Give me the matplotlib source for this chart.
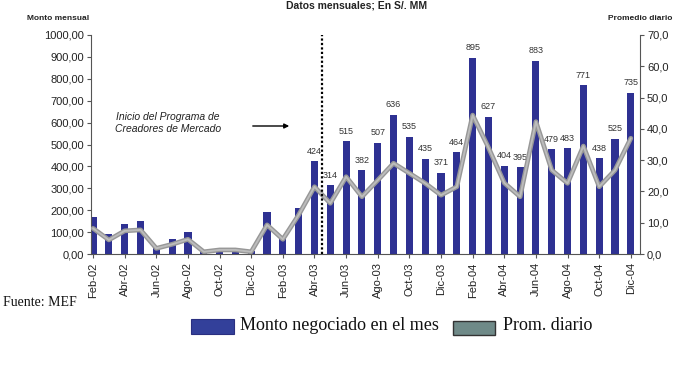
import matplotlib
matplotlib.use("Agg")
import matplotlib.pyplot as plt
from matplotlib.patches import Rectangle
import numpy as np

months = ["Feb-02", "Mar-02", "Abr-02", "May-02", "Jun-02", "Jul-02", "Ago-02", "Sep-02",
          "Oct-02", "Nov-02", "Dic-02", "Ene-03", "Feb-03", "Mar-03", "Abr-03", "May-03",
          "Jun-03", "Jul-03", "Ago-03", "Sep-03", "Oct-03", "Nov-03", "Dic-03", "Ene-04",
          "Feb-04", "Mar-04", "Abr-04", "May-04", "Jun-04", "Jul-04", "Ago-04", "Sep-04",
          "Oct-04", "Nov-04", "Dic-04"]
monto = [170, 90, 135, 149, 28, 70, 99, 12, 15, 14, 12, 190, 76, 209, 424, 314,
         515, 382, 507, 636, 535, 435, 371, 464, 895, 627, 404, 395, 883, 479, 483,
         771, 438, 525, 735]
prom_diario = [8.2, 4.5, 7.4, 7.7, 1.8, 3.1, 4.7, 0.7, 1.3, 1.3, 0.7, 9.3, 4.7, 12.5,
               21.5, 16.2, 24.7, 18.3, 23.6, 29.0, 25.8, 22.6, 18.8, 21.5, 44.4, 34.0,
               22.7, 18.3, 42.3, 26.8, 22.6, 34.5, 21.5, 26.8, 37.0]
labelled_from = 14  # data labels from Abr-03 onward
left_ticks = [0, 100, 200, 300, 400, 500, 600, 700, 800, 900, 1000]
right_ticks = [0, 10, 20, 30, 40, 50, 60, 70]

W, H = 689, 386
fig = plt.figure(figsize=(W / 100, H / 100), dpi=100)
fig.patch.set_facecolor("white")

def fx(px):
    return px / W

def fy(py):
    return 1 - py / H

ax = fig.add_axes([fx(91), fy(254), fx(640) - fx(91), fy(35) - fy(254)])
x = np.arange(len(months))
bar_color = "#2e3192"
ax.bar(x, monto, width=0.45, color=bar_color, zorder=2)
ax.set_xlim(-0.13, 34.58)
ax.set_ylim(0, 1000)
ax.set_yticks(left_ticks)
ax.set_yticklabels([f"{v:.2f}".replace(".", ",") for v in left_ticks],
                   fontsize=8, family="Liberation Sans", color="#222222")
ax.set_xticks(x[::2])
ax.set_xticklabels(months[::2], rotation=90, fontsize=8, family="Liberation Sans",
                   color="#222222")
ax.tick_params(axis="y", length=3, width=0.8, color="#555555", pad=2)
ax.tick_params(axis="x", length=3, width=0.8, color="#555555", pad=3)
for s in ["top", "right"]:
    ax.spines[s].set_visible(False)
ax.spines["left"].set_color("#555555")
ax.spines["bottom"].set_color("#555555")
ax.set_facecolor("none")

for i in range(labelled_from, len(monto)):
    ax.annotate(str(monto[i]), (x[i], monto[i]), xytext=(0, 4), textcoords="offset points",
                ha="center", va="bottom", fontsize=6.5, family="Liberation Sans",
                color="#333333", zorder=5)

ax2 = ax.twinx()
ax2.set_ylim(0, 70)
ax2.set_yticks(right_ticks)
ax2.set_yticklabels([f"{v:.1f}".replace(".", ",") for v in right_ticks],
                    fontsize=8, family="Liberation Sans", color="#222222")
ax2.tick_params(axis="y", length=3, width=0.8, color="#555555", pad=2)
for s in ["top", "left", "bottom"]:
    ax2.spines[s].set_visible(False)
ax2.spines["right"].set_color("#555555")
ax2.plot(x, prom_diario, color="#979797", lw=3.4, solid_joinstyle="round",
         solid_capstyle="round", zorder=3)
ax2.plot(x, prom_diario, color="#bcbcbc", lw=1.4, solid_joinstyle="round",
         solid_capstyle="round", zorder=4)

# program start marker
ax2.axvline(14.45, ymin=0, ymax=1.0, color="black", lw=1.6, ls=(0, (1, 1)), zorder=6)
fig.text(fx(168), fy(123), "Inicio del Programa de\nCreadores de Mercado", ha="center",
         va="center", fontsize=7.5, style="italic", family="Liberation Sans",
         color="#222222", linespacing=1.3)
ax.annotate("", xy=(fx(292), fy(126)), xytext=(fx(250), fy(126)),
            xycoords="figure fraction", textcoords="figure fraction",
            arrowprops=dict(arrowstyle="-|>", color="black", lw=1.0, mutation_scale=7))

# headings
fig.text(fx(357), fy(6), "Datos mensuales; En S/. MM", ha="center", va="center",
         fontsize=7.5, weight="bold", family="Liberation Sans", color="#222222")
fig.text(fx(27), fy(18), "Monto mensual", ha="left", va="center", fontsize=6,
         weight="bold", family="Liberation Sans", color="#222222")
fig.text(fx(672), fy(18), "Promedio diario", ha="right", va="center", fontsize=6,
         weight="bold", family="Liberation Sans", color="#222222")

# source and legend
fig.text(fx(3), fy(303), "Fuente: MEF", ha="left", va="center", fontsize=10,
         family="Liberation Serif", color="#111111")
fig.add_artist(Rectangle((fx(191), fy(334)), fx(234) - fx(191), fy(319) - fy(334),
                         transform=fig.transFigure, facecolor="#33409a",
                         edgecolor="#2a2f80", lw=0.8))
fig.text(fx(240), fy(325), "Monto negociado en el mes", ha="left", va="center",
         fontsize=13, family="Liberation Serif", color="#111111")
fig.add_artist(Rectangle((fx(453), fy(335)), fx(495) - fx(453), fy(321) - fy(335),
                         transform=fig.transFigure, facecolor="#6f8a88",
                         edgecolor="#333333", lw=1.0))
fig.text(fx(503), fy(325), "Prom. diario", ha="left", va="center",
         fontsize=13, family="Liberation Serif", color="#111111")

fig.savefig("out.png", dpi=100)
